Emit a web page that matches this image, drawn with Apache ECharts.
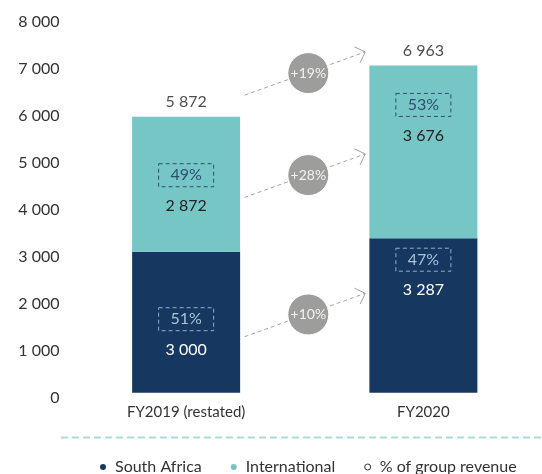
<!DOCTYPE html>
<html>
<head>
<meta charset="utf-8">
<script src="https://cdn.jsdelivr.net/npm/echarts@6/dist/echarts.min.js"></script>
<style>
  html, body { margin: 0; padding: 0; background: #fff; }
  #main { width: 542px; height: 474px; }
</style>
</head>
<body>
<div id="main"></div>
<script>
// chart data
var years = ['FY2019 (restated)', 'FY2020'];
var southAfrica = [3000, 3287];
var international = [2872, 3676];
var totals = [5872, 6963];
var pctSouthAfrica = ['51%', '47%'];
var pctInternational = ['49%', '53%'];
var yTicks = [0, 1000, 2000, 3000, 4000, 5000, 6000, 7000, 8000];

// growth arrows between the two years
var growth = ['+19%', '+28%', '+10%'];
var arrowFrom = [6330, 4155, 1190];
var arrowTo = [7250, 5080, 2115];
var bubbleAt = [6800, 4630, 1665];

var navy = '#16375f';
var teal = '#77c6c6';
var font = 'Lato';

// label offset from the segment top (px), per bar
var gapSA = [56, 10];
var gapInt = [47, 28];

function fmt(v) {
	return String(v).replace(/\B(?=(\d{3})+(?!\d))/g, ' ');
}

var saData = [], intData = [];
for (var i = 0; i < years.length; i++) {
	saData.push({value: southAfrica[i], label: {distance: gapSA[i]}, pct: pctSouthAfrica[i]});
	intData.push({value: international[i], label: {distance: gapInt[i]}, pct: pctInternational[i]});
}

var arrowData = [];
for (var j = 0; j < growth.length; j++) {
	arrowData.push([0.5, arrowFrom[j], arrowTo[j], bubbleAt[j]]);
}

var myChart = echarts.init(document.getElementById('main'));
var option = {
	animation: false,
	textStyle: {fontFamily: font},
	grid: {left: 67.5, right: -3.5, top: 16.7, bottom: 81.3},
	legend: {
		left: 95,
		top: 454,
		itemWidth: 6,
		itemHeight: 6,
		itemGap: 29,
		textStyle: {fontSize: 16, color: '#333', fontFamily: font, padding: [0, 0, 0, 4]},
		data: [
			{name: 'South Africa', icon: 'circle'},
			{name: 'International', icon: 'circle'},
			{name: '% of group revenue', icon: 'circle', itemStyle: {color: '#fff', borderColor: '#333', borderWidth: 1}}
		]
	},
	xAxis: [{
		type: 'category',
		data: years,
		axisLine: {show: false},
		axisTick: {show: false},
		axisLabel: {color: '#333', fontSize: 15, margin: 12, fontFamily: font}
	}, {
		type: 'value',
		min: -0.5,
		max: 1.5,
		show: false
	}],
	yAxis: {
		type: 'value',
		min: yTicks[0],
		max: yTicks[yTicks.length - 1],
		interval: 1000,
		splitLine: {show: false},
		axisLine: {show: false},
		axisTick: {show: false},
		axisLabel: {
			color: '#333',
			fontSize: 16,
			margin: 8,
			verticalAlign: 'top',
			lineHeight: 11,
			fontFamily: font,
			formatter: function (v) { return fmt(v); }
		}
	},
	graphic: [{
		type: 'line',
		shape: {x1: 61, y1: 437.5, x2: 542, y2: 437.5},
		style: {stroke: '#abdbd9', lineWidth: 2, lineDash: [7, 4]}
	}],
	series: [{
		name: 'South Africa',
		type: 'bar',
		stack: 'rev',
		barWidth: 108,
		itemStyle: {color: navy},
		data: saData,
		label: {
			show: true,
			position: 'insideTop',
			formatter: function (p) { return '{box|' + p.data.pct + '}\n{val|' + fmt(p.value) + '}'; },
			rich: {
				box: {width: 55, height: 23, align: 'center', fontSize: 16, color: '#a9c4d6', fontFamily: font,
					borderColor: '#8fb0c8', borderWidth: 1, borderType: [4, 3]},
				val: {lineHeight: 38, fontSize: 16, color: '#fff', align: 'center', fontFamily: font}
			}
		}
	}, {
		name: 'International',
		type: 'bar',
		stack: 'rev',
		barWidth: 108,
		itemStyle: {color: teal},
		data: intData,
		label: {
			show: true,
			position: 'insideTop',
			formatter: function (p) { return '{box|' + p.data.pct + '}\n{val|' + fmt(p.value) + '}'; },
			rich: {
				box: {width: 55, height: 23, align: 'center', fontSize: 16, color: '#2c4e72', fontFamily: font,
					borderColor: '#2c4e72', borderWidth: 1, borderType: [4, 3]},
				val: {lineHeight: 38, fontSize: 16, color: '#222', align: 'center', fontFamily: font}
			}
		}
	}, {
		name: 'total',
		type: 'scatter',
		symbolSize: 0,
		data: totals,
		label: {
			show: true,
			position: 'top',
			distance: 7,
			fontSize: 16,
			color: '#222',
			fontFamily: font,
			formatter: function (p) { return fmt(p.value); }
		},
		silent: true
	}, {
		name: '% of group revenue',
		type: 'line',
		data: []
	}, {
		name: 'growth',
		type: 'custom',
		xAxisIndex: 1,
		silent: true,
		z: 5,
		encode: {x: 0, y: [1, 2, 3]},
		data: arrowData,
		renderItem: function (params, api) {
			var p0 = api.coord([0.246, api.value(1)]);
			var p1 = api.coord([0.755, api.value(2)]);
			var c = api.coord([0.515, api.value(3)]);
			var phi = Math.atan2(p0[1] - p1[1], p0[0] - p1[0]);
			var L = 12, a = Math.PI / 4;
			var arm1 = [p1[0] + L * Math.cos(phi + a), p1[1] + L * Math.sin(phi + a)];
			var arm2 = [p1[0] + L * Math.cos(phi - a), p1[1] + L * Math.sin(phi - a)];
			return {
				type: 'group',
				children: [{
					type: 'line',
					shape: {x1: p0[0], y1: p0[1], x2: p1[0], y2: p1[1]},
					style: {stroke: '#a3a3a3', lineWidth: 1, lineDash: [4, 3]}
				}, {
					type: 'polyline',
					shape: {points: [arm1, p1, arm2]},
					style: {stroke: '#a3a3a3', lineWidth: 1, fill: null}
				}, {
					type: 'circle',
					shape: {cx: c[0], cy: c[1], r: 20.5},
					style: {fill: '#9d9d9c', stroke: '#fff', lineWidth: 1}
				}, {
					type: 'text',
					style: {
						text: growth[params.dataIndex],
						x: c[0], y: c[1],
						align: 'center', verticalAlign: 'middle',
						fill: '#f2f2f2', fontSize: 14, fontFamily: font
					}
				}]
			};
		}
	}]
};
myChart.setOption(option);
</script>
</body>
</html>
